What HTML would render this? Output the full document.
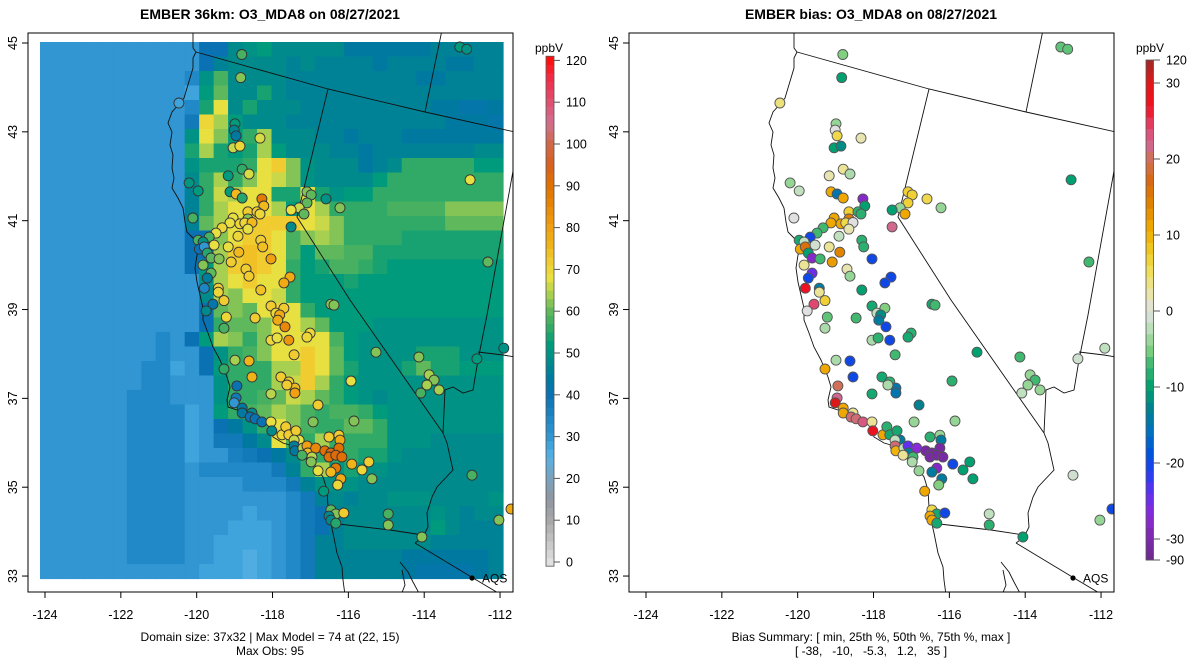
<!DOCTYPE html>
<html><head><meta charset="utf-8"><title>EMBER O3_MDA8</title>
<style>
html,body{margin:0;padding:0;background:#fff;}
svg{display:block;font-family:"Liberation Sans",Arial,sans-serif;}
</style></head>
<body>
<svg id="fig" width="1200" height="672" viewBox="0 0 1200 672" xmlns="http://www.w3.org/2000/svg">
<defs>
<clipPath id="clipL"><rect x="28" y="33" width="485" height="559"/></clipPath>
<clipPath id="clipR"><rect x="629" y="33" width="485" height="559"/></clipPath>
</defs>
<text x="270" y="19" text-anchor="middle" font-size="14" font-weight="bold">EMBER 36km: O3_MDA8 on 08/27/2021</text>
<text x="871" y="19" text-anchor="middle" font-size="14" font-weight="bold">EMBER bias: O3_MDA8 on 08/27/2021</text>
<g id="leftPanel">
  <g id="gridL" clip-path="url(#clipL)"></g>
  <g id="bordersL" clip-path="url(#clipL)"></g>
  <g id="ptsL" clip-path="url(#clipL)"></g>
  <rect x="28" y="33" width="485" height="559" fill="none" stroke="#000" stroke-width="1"/>
  <g id="axesL"></g>
  <g id="cbarL"></g>
  <text x="270" y="641" text-anchor="middle" font-size="12">Domain size: 37x32 | Max Model = 74 at (22, 15)</text>
  <text x="270" y="655" text-anchor="middle" font-size="12">Max Obs: 95</text>
</g>
<g id="rightPanel">
  <g id="bordersR" clip-path="url(#clipR)"></g>
  <g id="ptsR" clip-path="url(#clipR)"></g>
  <rect x="629" y="33" width="485" height="559" fill="none" stroke="#000" stroke-width="1"/>
  <g id="axesR"></g>
  <g id="cbarR"></g>
  <text x="871" y="641" text-anchor="middle" font-size="12">Bias Summary: [ min, 25th %, 50th %, 75th %, max ]</text>
  <text x="871" y="655" text-anchor="middle" font-size="12" xml:space="preserve">[ -38,   -10,   -5.3,   1.2,   35 ]</text>
</g>
</svg>
<script>
// ---- data ----
const gridCodes = "abcdefghijklmnopqrstuvwxyz0123";
const gridRows = [
"fffffffffffkkopqooooommmmmmnnnnn",
"fffffffffffknoooononnnnmnnnnmmnn",
"ffffffffffhptoooonnnnnnnnnmmnnnn",
"ffffffffffequooronnnnnnnnnnnnnnn",
"ffffffffffhryorooonnnnnnnnnmmllm",
"ffffffffffjzwqooonnnnnnnnnnnmmml",
"ffffffffffpyvqswooonnmnnnmmmmmmm",
"ffffffffffrwrqrwqooonnmnnnnnnnoo",
"ffffffffffprrrsy0vpooomnosssssqq",
"ffffffffffoswsvyxvpooooqssssssss",
"ffffffffffnsxwyyrryrpqqsssssssss",
"ffffffffffnswyyywqywssssttttvvvv",
"ffffffffffnuwy0000yxvsssssssuuuu",
"ffffffffffkkvy00ytvwvssssrrrrrrr",
"ffffffffffkkw010ytquuttrrrrrrrrr",
"ffffffffffkqw010ysqrttsrqqqqqqqq",
"fffffffffffpwy0yysqqqrqqqqqqqqqq",
"fffffffffffowvyyxsqqqqqqqqqqqqqq",
"fffffffffffkuvuyzysqqqqqqqqqqqqq",
"fffffffffffksuuvyywuqqqppppppppp",
"ffffffffhfkqwvsvyyyytqpppppppppp",
"ffffffffhffkpstvyy0yuqpppprrrppp",
"fffffffhhefkqsssww0yurppprurrqqq",
"fffffffhhfffpssswx0wsqpppppppppp",
"ffffffhhhfffpsstuxwusqpopppppppp",
"ffffffhhhhefqstuwvtsttsqpppppppp",
"ffffffhhhhefkmpsyvtssuuspppppppp",
"ffffffhhhhefjjmoytswsssspppooooo",
"ffffffhhhheffijkmossssrrpooooooo",
"ffffffhhhhfhhhhhjnswprppoooooooo",
"ffffffhhhhffffhhhjnpppoooooooooo",
"ffffffhhhhfffffffhjnonoopppoooop",
"ffffffhhhhffffeffhjknooooooponoo",
"ffffffhhhhfffeeefhjknooooooqonnn",
"ffffffhhhhffeeeefhjnnoooooonnnnn",
"ffffffhhhhffeedefhjnnnnnnmmmmmmn",
"fffffffffffeeedefhjnnnnnnmllllmn"
];
const lons = [-118.81,-118.84,-120.47,-118.99,-119.01,-118.96,-118.33,-119.04,-118.86,-118.80,-119.17,-118.62,-120.20,-119.96,-119.12,-118.96,-118.80,-118.28,-118.23,-117.09,-116.98,-117.09,-116.59,-116.22,-117.30,-117.51,-117.17,-117.51,-120.10,-118.65,-118.41,-118.33,-119.04,-119.12,-118.86,-118.65,-118.73,-118.54,-118.65,-119.33,-119.49,-119.67,-119.96,-119.83,-119.93,-119.80,-119.72,-119.54,-118.91,-119.17,-118.89,-118.31,-118.26,-118.04,-119.62,-119.41,-119.83,-119.09,-119.62,-119.72,-118.70,-118.62,-117.54,-117.70,-119.80,-119.43,-119.43,-119.57,-119.28,-119.75,-118.31,-119.22,-118.46,-118.04,-117.70,-117.91,-117.81,-117.86,-117.67,-119.28,-116.46,-116.38,-118.04,-117.88,-117.57,-117.01,-117.09,-115.27,-118.99,-118.62,-117.43,-119.28,-118.54,-117.78,-117.57,-117.41,-117.41,-117.62,-115.93,-118.94,-118.04,-118.96,-119.01,-116.80,-118.80,-118.80,-118.54,-118.59,-118.46,-118.28,-118.04,-116.93,-115.85,-118.02,-117.75,-117.65,-117.57,-117.38,-117.30,-117.43,-117.43,-117.41,-117.20,-117.09,-117.07,-116.86,-117.22,-116.96,-116.98,-116.51,-116.25,-116.22,-116.62,-116.46,-116.25,-116.51,-116.33,-116.17,-115.91,-115.64,-115.46,-115.38,-116.33,-116.46,-116.80,-116.20,-116.28,-116.65,-116.46,-116.33,-116.12,-116.51,-116.46,-116.33,-114.95,-114.95,-113.06,-112.88,-112.79,-112.32,-114.14,-113.87,-113.74,-113.93,-114.09,-113.61,-112.61,-111.90,-112.74,-112.03,-114.06,-111.71];
const lats = [44.74,44.22,43.65,43.18,43.04,42.91,42.86,42.64,42.68,42.16,42.01,42.05,41.85,41.67,41.65,41.60,41.51,41.49,41.33,41.65,41.58,41.40,41.49,41.29,41.29,41.24,41.15,40.86,41.06,41.20,41.20,41.15,41.06,40.95,40.93,41.04,40.95,40.96,40.81,40.84,40.72,40.63,40.56,40.52,40.36,40.41,40.27,40.45,40.65,40.41,40.29,40.56,40.41,40.14,40.16,40.14,40.00,40.07,39.82,39.71,39.91,39.75,39.73,39.60,39.48,39.48,39.39,39.12,39.20,38.97,39.44,38.83,38.81,39.08,39.03,38.92,38.88,38.76,38.61,38.58,39.12,39.10,38.31,38.36,38.31,38.47,38.38,38.04,37.86,37.84,37.98,37.66,37.48,37.48,37.37,37.23,37.12,37.30,37.39,37.28,37.10,37.01,36.90,36.85,36.78,36.67,36.67,36.58,36.54,36.47,36.47,36.47,36.49,36.27,36.18,36.36,36.18,36.27,36.06,36.06,35.93,35.82,35.88,35.93,35.77,35.88,35.72,35.68,35.57,36.13,36.17,36.06,35.82,35.77,35.88,35.68,35.72,35.68,35.52,35.39,35.57,35.19,35.43,35.34,35.37,35.19,35.05,34.91,34.49,34.40,34.42,34.35,34.26,34.19,34.40,34.15,44.91,44.86,41.92,40.07,37.93,37.53,37.41,37.30,37.12,37.19,37.89,38.13,35.27,34.26,33.88,34.51];
const obsVals = [58,62,28,52,47,44,67,66,70,56,52,67,51,52,52,75,55,88,75,62,60,60,50,62,66,68,60,48,58,72,72,70,68,68,70,62,70,75,68,70,68,58,58,50,40,30,55,68,70,68,75,72,74,80,60,62,62,72,60,45,72,72,78,78,35,72,70,42,72,48,74,70,72,72,72,70,78,78,85,58,62,62,70,68,82,70,70,62,64,76,72,56,76,72,72,75,80,72,68,40,65,38,30,72,44,44,48,40,40,40,68,62,62,48,70,72,72,72,68,66,45,44,65,80,75,85,58,65,62,72,72,78,90,92,90,90,92,90,76,70,72,62,88,75,68,78,70,52,60,62,72,48,48,55,58,62,52,50,68,60,62,64,62,64,58,64,52,50,58,62,62,78];
const biasVals = [-5,-10,4,-4,0,6,2,-10,-12,3,2,-3,-4,-2,11,-15,11,-28,-10,7,7,7,6,-4,-4,-10,11,22,0,7,-8,-8,11,11,11,15,6,0,2,-7,-7,-20,-9,-2,11,16,-10,-1,-2,3,14,-8,-8,-20,-28,-7,3,12,-25,-20,2,-4,-20,-20,27,-14,3,24,7,0,-10,-6,-7,-9,-5,-2,-12,-14,-20,-3,-9,-7,-3,-8,-20,-8,-9,-10,-3,-20,-7,11,-20,-9,-8,-15,-15,-3,-8,20,-9,22,35,-13,11,11,3,21,21,23,3,-4,-4,28,11,-8,-9,-9,-14,-2,21,10,-2,-24,-14,-27,3,-7,-3,-8,-4,-14,-40,-40,-40,-40,-40,-40,-20,-10,-10,-10,-28,-14,-4,-14,-5,11,6,-9,-20,11,11,-9,-2,-8,-6,-6,-10,-7,-7,-4,-7,-4,-2,-4,-1,-2,-1,-4,-10,-20];
const lonTicks = [-124,-122,-120,-118,-116,-114,-112];
const latTicks = [33,35,37,39,41,43,45];
const modelTicks = [0,10,20,30,40,50,60,70,80,90,100,110,120];
const biasTicks = [-90,-30,-20,-10,0,10,20,30,120];

// ---- scales ----
const NS = "http://www.w3.org/2000/svg";
function xScale(lon){ return 45 + (lon + 124) * 37.92; }
function yScale(lat){ return 43 + (45 - lat) * 44.42; }
const MAP = {x0:40, y0:42, x1:503, y1:578.5};
function hex(c){return [parseInt(c.substr(1,2),16),parseInt(c.substr(3,2),16),parseInt(c.substr(5,2),16)];}
function interp(stops, v){
  if (v <= stops[0][0]) return stops[0][1];
  for (let i=1;i<stops.length;i++){
    if (v <= stops[i][0]){
      const a=stops[i-1], b=stops[i], t=(v-a[0])/(b[0]-a[0]);
      const ca=hex(a[1]), cb=hex(b[1]);
      return "rgb("+ca.map((x,k)=>Math.round(x+(cb[k]-x)*t)).join(",")+")";
    }
  }
  return stops[stops.length-1][1];
}
const modelStops = [[0,"#e0e0e0"],[10,"#a8a8a8"],[15,"#9096a0"],[20,"#7aa2bc"],[25,"#58b0e4"],[28,"#40a4dc"],[30,"#3196d1"],[34,"#2289c8"],[40,"#0a72b2"],[44,"#0079a0"],[48,"#008a8c"],[52,"#009a7c"],[56,"#30aa66"],[60,"#60b85c"],[64,"#a8d050"],[68,"#e8e040"],[72,"#f0cc30"],[76,"#f0b418"],[80,"#f0a010"],[90,"#e07000"],[95,"#d86020"],[100,"#d06848"],[105,"#d07090"],[110,"#e05070"],[115,"#f03050"],[120,"#ff1010"]];
const biasStops = [[-90,"#6a2a8a"],[-30,"#7a2aa8"],[-27,"#8a2ad8"],[-24,"#6030f0"],[-21,"#2040f0"],[-19,"#0050e0"],[-16,"#0070c0"],[-13,"#008090"],[-10,"#00a070"],[-7,"#40b870"],[-5,"#80d080"],[-2,"#c0e0c0"],[0,"#e0e0e0"],[2,"#e8e4b0"],[5,"#f0e060"],[8,"#f0c820"],[11,"#f0a800"],[14,"#e08400"],[17,"#d86810"],[20,"#d07058"],[22,"#d06890"],[24,"#e04870"],[27,"#f01020"],[30,"#e01818"],[120,"#a02828"]];
function mk(tag, attrs, parent){ const e=document.createElementNS(NS,tag); for (const k in attrs) e.setAttribute(k, attrs[k]); parent.appendChild(e); return e; }

// ---- model grid ----
const gridL = document.getElementById('gridL');
const nRows = gridRows.length, nCols = gridRows[0].length;
const cw = (MAP.x1-MAP.x0)/nCols, ch = (MAP.y1-MAP.y0)/nRows;
for (let r=0;r<nRows;r++){
  for (let c=0;c<nCols;c++){
    const v = 20 + 2*gridCodes.indexOf(gridRows[r][c]);
    const cell = mk('rect',{x:(MAP.x0+c*cw).toFixed(2), y:(MAP.y0+r*ch).toFixed(2), width:(cw+0.6).toFixed(2), height:(ch+0.6).toFixed(2), fill:interp(modelStops,v)}, gridL);
    
    
  }
}

// ---- borders ----
const borderPaths = [
 "M193,33 L193,48 L196,52 L193,58 L193,68 L187,88 L184,98 L180,103 L172,112 L168,123 L172,132 L170,145 L173,155 L172,168 L174,178 L172,188 L178,198 L183,208 L185,222 L187,232 L193,238 L197,242 L200,248 L197,255 L195,268 L197,282 L200,295 L203,308 L203,320 L208,333 L213,347 L220,360 L227,377 L230,387 L227,400 L228,407 L243,412 L257,418 L270,427 L273,437 L283,443 L297,447 L303,457 L313,463 L323,477 L327,490 L328,507 L330,520 L333,533 L337,553 L342,567 L343,580 L345,595",
 "M196,241 L205,240 L212,244 L218,247",
 "M196,52 L328,89 L425,112 L515,132",
 "M328,89 L297,217 L350,300 L443,433",
 "M443,433 L447,443 L453,470 L437,487 L432,497 L427,513 L428,527 L423,537 L415,543",
 "M330,523 L390,530 L423,535",
 "M415,543 L473,578 L515,603",
 "M442,30 L425,112",
 "M515,160 L487,315 L478,360",
 "M478,352 L503,355 L515,357",
 "M478,360 L473,390 L463,393 L453,387 L445,390 L443,433",
 "M400,562 L408,572 L413,582 L420,595",
 "M402,570 L405,585 L401,595"
];
function drawBorders(gid, dx){
  const g = document.getElementById(gid);
  borderPaths.forEach(d=>{
    const p = mk('path',{d:d, fill:"none", stroke:"#111", "stroke-width":"0.9", transform:"translate("+dx+",0)"}, g);
    
    
  });
  const dot = mk('circle',{cx:472+dx, cy:578, r:2.6, fill:"#000"}, g);
  
  
  const t = mk('text',{x:482+dx, y:582.5, "font-size":"12"}, g);
  t.textContent = "AQS";
  
  
}
drawBorders('bordersL', 0);
drawBorders('bordersR', 601);

// ---- points ----
const nPts = Math.min(lons.length, lats.length, obsVals.length, biasVals.length);
const ptsL = document.getElementById('ptsL'), ptsR = document.getElementById('ptsR');
for (let i=0;i<nPts;i++){
  const cx = xScale(lons[i]), cy = yScale(lats[i]);
  const a = mk('circle',{cx:cx.toFixed(1), cy:cy.toFixed(1), r:5, fill:interp(modelStops,obsVals[i]), stroke:"#333", "stroke-width":"0.9"}, ptsL);
  
  
  const b = mk('circle',{cx:(cx+601).toFixed(1), cy:cy.toFixed(1), r:5, fill:interp(biasStops,biasVals[i]), stroke:"#555", "stroke-width":"0.9"}, ptsR);
  
  
}

// ---- axes ----
function drawAxes(gid, dx){
  const g = document.getElementById(gid);
  lonTicks.forEach(t=>{
    const x = xScale(t)+dx;
    const l = mk('line',{x1:x, y1:592, x2:x, y2:598, stroke:"#000", "stroke-width":"1"}, g);
    
    
    const tx = mk('text',{x:x, y:619, "text-anchor":"middle", "font-size":"12.5"}, g);
    tx.textContent = String(t);
    
    
  });
  latTicks.forEach(t=>{
    const y = yScale(t);
    const l = mk('line',{x1:28+dx, y1:y, x2:22+dx, y2:y, stroke:"#000", "stroke-width":"1"}, g);
    
    
    const tx = mk('text',{x:0, y:0, "text-anchor":"middle", "font-size":"12.5", transform:"translate("+(17+dx)+","+y+") rotate(-90)"}, g);
    tx.textContent = String(t);
    
    
  });
}
drawAxes('axesL', 0);
drawAxes('axesR', 601);

// ---- colorbars ----
function modelY(v){ return 562 - v*4.18; }
function biasY(v){
  if (v > 30) return 84 - (v-30)/90*24;
  if (v < -30) return 540 + (-30-v)/60*20;
  return 311 - v*7.6;
}
(function(){
  const g = document.getElementById('cbarL');
  for (let v=-1; v<121; v+=2){
    const y0 = modelY(v+2), y1 = modelY(v);
    const r = mk('rect',{x:546, y:y0.toFixed(2), width:8, height:(y1-y0+0.4).toFixed(2), fill:interp(modelStops, Math.max(0,v+1))}, g);
    
    
  }
  mk('rect',{x:546, y:modelY(121), width:8, height:modelY(-1)-modelY(121), fill:"none", stroke:"#555", "stroke-width":"0.8"}, g);
  modelTicks.forEach(t=>{
    const y = modelY(t);
    const l = mk('line',{x1:554, y1:y, x2:560, y2:y, stroke:"#555"}, g);
    
    
    const tx = mk('text',{x:566, y:y+4.5, "font-size":"12.5"}, g);
    tx.textContent = String(t);
    
    
  });
  const u = mk('text',{x:549, y:52, "text-anchor":"middle", "font-size":"12"}, g);
  u.textContent = "ppbV";
  
  
})();
(function(){
  const g = document.getElementById('cbarR');
  const vals = [];
  for (let v=-90; v<-30; v+=10) vals.push([v, v+10]);
  for (let v=-30; v<30; v+=1.5) vals.push([v, v+1.5]);
  for (let v=30; v<120; v+=15) vals.push([v, v+15]);
  vals.forEach(p=>{
    const y0 = biasY(p[1]), y1 = biasY(p[0]);
    const r = mk('rect',{x:1146, y:y0.toFixed(2), width:7.5, height:(y1-y0+0.4).toFixed(2), fill:interp(biasStops,(p[0]+p[1])/2)}, g);
    
    
  });
  mk('rect',{x:1146, y:biasY(120), width:7.5, height:biasY(-90)-biasY(120), fill:"none", stroke:"#555", "stroke-width":"0.8"}, g);
  biasTicks.forEach(t=>{
    const y = biasY(t);
    const l = mk('line',{x1:1153.5, y1:y, x2:1160, y2:y, stroke:"#555"}, g);
    
    
    const tx = mk('text',{x:1166, y:y+4.5, "font-size":"12.5"}, g);
    tx.textContent = String(t);
    
    
  });
  const u = mk('text',{x:1150, y:52, "text-anchor":"middle", "font-size":"12"}, g);
  u.textContent = "ppbV";
  
  
})();
</script>
</body></html>
